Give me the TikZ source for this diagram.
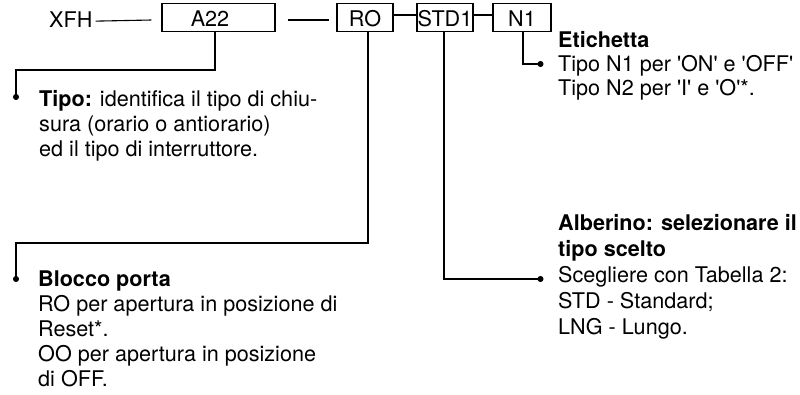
\documentclass[tikz,border=0pt]{standalone}
\usepackage{fontspec}
\setmainfont{TeX Gyre Heros}
\usetikzlibrary{arrows.meta}
\newcommand{\q}{\textquotesingle}
\begin{document}
\begin{tikzpicture}[x=1pt,y=-1pt,
  font=\fontsize{21.6}{25}\selectfont,
  codebox/.style={draw,line width=1.1pt,inner sep=0pt,minimum height=28pt,text height=17pt,text depth=0pt},
  txt/.style={inner sep=0pt,anchor=base west},
  lead/.style={line width=1.1pt,-{Circle[length=6pt,width=6pt]}},
  link/.style={line width=1.1pt}]
\useasboundingbox (0,0) rectangle (800,394);
% top row
\node[txt] (xfh) at (49,27) {XFH};
\node[codebox,minimum width=113pt] (a22) at (218.5,17.5) {A22\hspace*{17pt}};
\node[codebox,minimum width=56pt] (ro) at (365,17.5) {RO};
\node[codebox,minimum width=56pt] (std) at (445,17.5) {STD1};
\node[codebox,minimum width=58pt] (n1) at (522,17.5) {N1};
\draw[link] ([xshift=3pt,yshift=-2pt]xfh.east) -- ([xshift=-10pt,yshift=-2.5pt]a22.west);
\draw[link] ([xshift=12pt,yshift=-2.5pt]a22.east) -- ([xshift=-7pt,yshift=-2.5pt]ro.west);
\draw[link] ([yshift=2.5pt]ro.east) -- ([yshift=2.5pt]std.west);
\draw[link] ([yshift=2.5pt]std.east) -- ([yshift=2.5pt]n1.west);
% coordinates of lead ends
\coordinate (k1) at (16,70);
\coordinate (d1) at (16,100);
\coordinate (k2) at (16,243);
\coordinate (d2) at (16,282);
\coordinate (d3) at (543.5,279);
\coordinate (d4) at (543.5,64);
% leads
\draw[lead] ([xshift=-3.5pt]a22.south) |- (k1) -- (d1);
\draw[lead] ([xshift=3pt]ro.south) |- (k2) -- (d2);
\draw[lead] ([xshift=-1pt]std.south) |- (d3);
\draw[lead] ([xshift=1pt]n1.south) |- (d4);
% Tipo
\node[txt] (t1) at (39,106) {\textbf{Tipo:} identifica il tipo di chiu-};
\node[txt] (t2) at (39,131) {sura (orario o antiorario)};
\node[txt] (t3) at (39,156) {ed il tipo di interruttore.};
% Blocco porta
\node[txt] (b1) at (38,286) {\textbf{Blocco porta}};
\node[txt] (b2) at (38,311) {RO per apertura in posizione di};
\node[txt] (b3) at (38,336) {Reset*.};
\node[txt] (b4) at (38,361.5) {OO per apertura in posizione};
\node[txt] (b5) at (38,386.5) {di OFF.};
% Etichetta
\node[txt] (e1) at (558,47) {\textbf{Etichetta}};
\node[txt] (e2) at (558,71) {Tipo N1 per \q ON\q{} e \q OFF\q};
\node[txt] (e3) at (558,95) {Tipo N2 per \q I\q{} e \q O\q*.};
% Alberino
\node[txt] (a1) at (558,230) {\textbf{Alberino: selezionare il}};
\node[txt] (a2) at (558,256) {\textbf{tipo scelto}};
\node[txt] (a3) at (558,282) {Scegliere con Tabella 2:};
\node[txt] (a4) at (558,308) {STD - Standard;};
\node[txt] (a5) at (558,334) {LNG - Lungo.};
\end{tikzpicture}
\end{document}
